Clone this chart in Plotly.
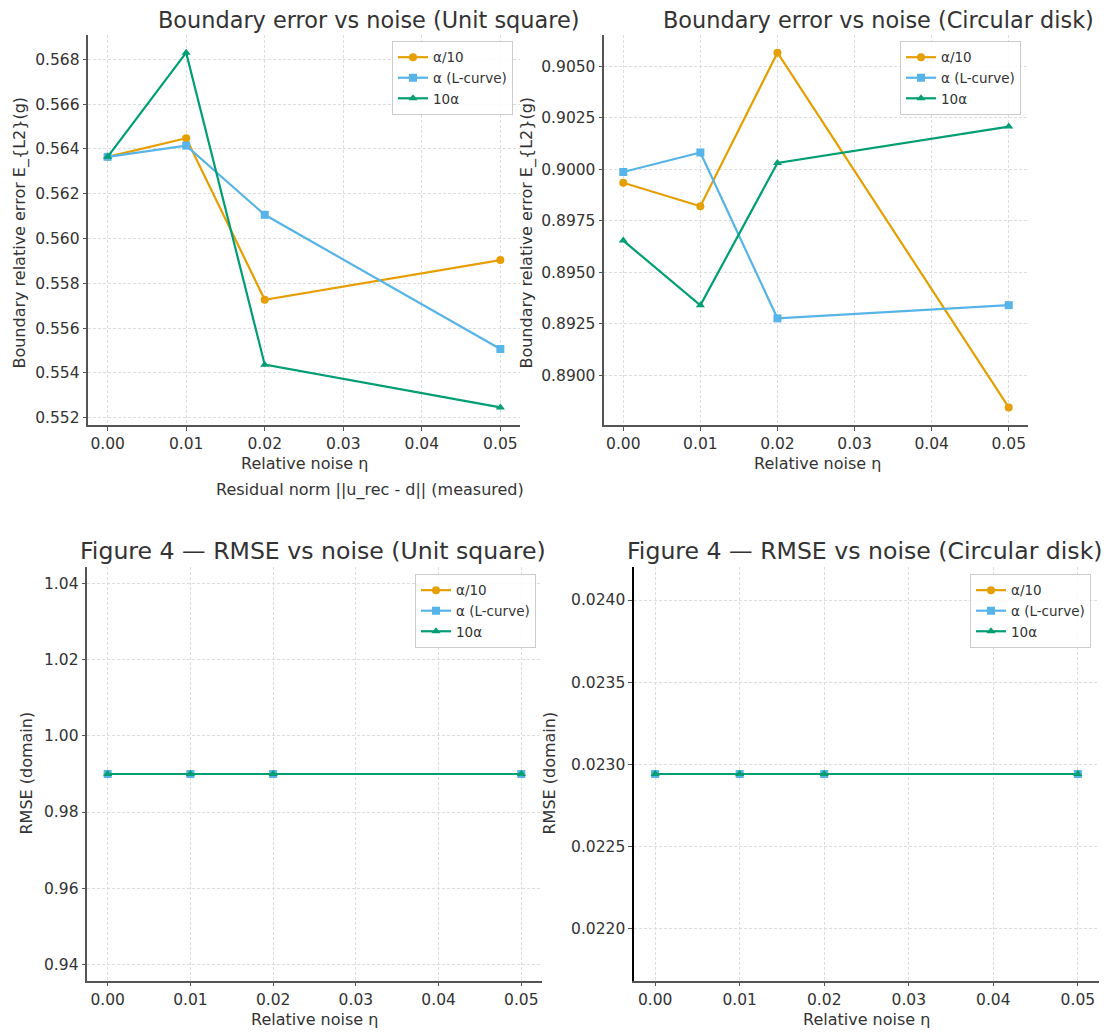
import math
import plotly.graph_objects as go

# ---------------- data ----------------
eta = [0.00, 0.01, 0.02, 0.05]
series_names = ["α/10", "α (L-curve)", "10α"]

# Boundary relative error, unit square
sq_a10 = [0.56365, 0.56448, 0.55727, 0.55904]
sq_a = [0.56365, 0.56415, 0.56106, 0.55507]
sq_10a = [0.56365, 0.56830, 0.55437, 0.55246]

# Boundary relative error, circular disk
disk_a10 = [0.89935, 0.89821, 0.90567, 0.88843]
disk_a = [0.89987, 0.90082, 0.89276, 0.89340]
disk_10a = [0.89654, 0.89339, 0.90031, 0.90208]

# RMSE (domain)
rmse_sq_a10 = [0.990, 0.990, 0.990, 0.990]
rmse_sq_a = [0.990, 0.990, 0.990, 0.990]
rmse_sq_10a = [0.990, 0.990, 0.990, 0.990]
rmse_disk_a10 = [0.02294, 0.02294, 0.02294, 0.02294]
rmse_disk_a = [0.02294, 0.02294, 0.02294, 0.02294]
rmse_disk_10a = [0.02294, 0.02294, 0.02294, 0.02294]

x_ticks = [0.00, 0.01, 0.02, 0.03, 0.04, 0.05]

# ---------------- style ----------------
W, H = 1110, 1034
COLORS = ["#E69F00", "#56B4E9", "#009E73"]
SYMBOLS = ["circle", "square", "triangle-up"]
FONT = "DejaVu Sans"
TXT = "#333333"
TICK_SIZE = 15.5
LABEL_SIZE = 16


def px(x):
    return x / W


def py(y):
    return 1 - y / H


def pad_range(vals):
    lo, hi = min(vals), max(vals)
    if lo == hi:
        lo -= 0.05 * abs(lo)
        hi += 0.05 * abs(hi)
    span = hi - lo
    return [lo - 0.05 * span, hi + 0.05 * span]


panels = [
    # (series, xdomain px, ydomain px, ytick step, yfmt, legend right px, legend top px)
    ([sq_a10, sq_a, sq_10a], (88, 520), (35, 426), 0.002, ".3f", 513, 41),
    ([disk_a10, disk_a, disk_10a], (604, 1028), (35, 426), 0.0025, ".4f", 1021, 41),
    ([rmse_sq_a10, rmse_sq_a, rmse_sq_10a], (87, 542), (568, 983), 0.02, ".2f", 536, 575),
    ([rmse_disk_a10, rmse_disk_a, rmse_disk_10a], (634, 1099), (568, 983), 0.0005, ".4f", 1091, 575),
]

fig = go.Figure()
layout = {}

for i, (ser, xd, yd, dt, yfmt, lr, lt) in enumerate(panels):
    k = "" if i == 0 else str(i + 1)
    legend_name = "legend" if i == 0 else f"legend{i + 1}"
    for j, vals in enumerate(ser):
        fig.add_trace(go.Scatter(
            x=eta, y=vals, mode="lines+markers", name=series_names[j],
            xaxis="x" + k, yaxis="y" + k, legend=legend_name,
            line=dict(color=COLORS[j], width=2.2),
            marker=dict(color=COLORS[j], symbol=SYMBOLS[j], size=8),
            cliponaxis=False,
        ))
    all_vals = [v for s in ser for v in s]
    yr = pad_range(all_vals)
    xr = pad_range(eta)
    start = math.ceil(yr[0] / dt - 1e-9) * dt
    yt = []
    v = start
    while v <= yr[1] + 1e-12:
        yt.append(round(v, 6))
        v += dt
    spine_col = "#000000" if i == 3 else "#555555"
    grid = dict(showgrid=True, gridcolor="#dedede", griddash="3px,2px", gridwidth=0.8)
    layout["xaxis" + k] = dict(
        domain=[px(xd[0]), px(xd[1])], anchor="y" + k, range=xr,
        tickvals=x_ticks, tickformat=".2f",
        showline=True, linecolor="#555555", linewidth=1.8,
        ticks="outside", ticklen=3.5, tickcolor="#555555",
        zeroline=False, tickfont=dict(family=FONT, size=TICK_SIZE, color=TXT),
        **grid,
    )
    layout["yaxis" + k] = dict(
        domain=[py(yd[1]), py(yd[0])], anchor="x" + k, range=yr,
        tickvals=yt, tickformat=yfmt,
        showline=True, linecolor=spine_col, linewidth=1.8 if i < 3 else 2.2,
        ticks="outside", ticklen=3.5, tickcolor="#555555",
        zeroline=False, tickfont=dict(family=FONT, size=TICK_SIZE, color=TXT),
        **grid,
    )
    layout[legend_name] = dict(
        x=px(lr), y=py(lt), xanchor="right", yanchor="top",
        xref="paper", yref="paper",
        bgcolor="rgba(255,255,255,0.85)", bordercolor="#cccccc", borderwidth=1,
        font=dict(family=FONT, size=13.5, color=TXT),
        itemwidth=30, tracegroupgap=0,
    )

annotations = [
    # titles
    dict(text="Boundary error vs noise (Unit square)", x=px(368), y=py(20), size=22.4),
    dict(text="Boundary error vs noise (Circular disk)", x=px(878), y=py(20), size=22.4),
    dict(text="Figure 4 — RMSE vs noise (Unit square)", x=px(313), y=py(552), size=23.6),
    dict(text="Figure 4 — RMSE vs noise (Circular disk)", x=px(865), y=py(552), size=23.6),
    # x titles
    dict(text="Relative noise η", x=px(304), y=py(464), size=LABEL_SIZE),
    dict(text="Relative noise η", x=px(817), y=py(464), size=LABEL_SIZE),
    dict(text="Residual norm ||u_rec - d|| (measured)", x=px(370), y=py(491), size=LABEL_SIZE),
    dict(text="Relative noise η", x=px(314), y=py(1021), size=LABEL_SIZE),
    dict(text="Relative noise η", x=px(866), y=py(1021), size=LABEL_SIZE),
]
ann_list = []
for a in annotations:
    ann_list.append(dict(
        text=a["text"], x=a["x"], y=a["y"], xref="paper", yref="paper",
        xanchor="center", yanchor="middle", showarrow=False,
        font=dict(family=FONT, size=a["size"], color=TXT),
    ))
# y titles
for text, xx, yy in [
    ("Boundary relative error E_{L2}(g)", 20, 233),
    ("Boundary relative error E_{L2}(g)", 527, 233),
    ("RMSE (domain)", 27, 775),
    ("RMSE (domain)", 550, 775),
]:
    ann_list.append(dict(
        text=text, x=px(xx), y=py(yy), xref="paper", yref="paper",
        xanchor="center", yanchor="middle", showarrow=False, textangle=-90,
        font=dict(family=FONT, size=LABEL_SIZE, color=TXT),
    ))

fig.update_layout(
    width=W, height=H,
    margin=dict(l=0, r=0, t=0, b=0),
    paper_bgcolor="white", plot_bgcolor="white",
    annotations=ann_list,
    showlegend=True,
    **layout,
)

fig.write_html("out.html")
